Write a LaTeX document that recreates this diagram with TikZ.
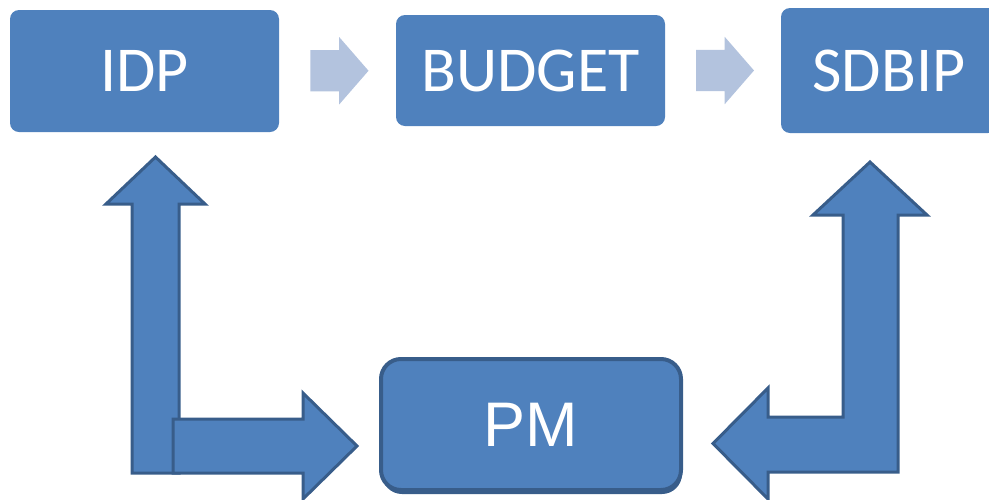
\documentclass[tikz,border=0pt]{standalone}
\usepackage{fontspec}
\setmainfont{Carlito}
\newfontfamily\pmfont{Liberation Sans}
\usetikzlibrary{calc, shapes.arrows, shadows}
\definecolor{b1}{HTML}{4F81BD}
\definecolor{b2}{HTML}{385D8A}
\definecolor{l1}{HTML}{B3C3DE}
\tikzset{
	topbox/.style={shape=rectangle, fill=b1, rounded corners=9pt, inner sep=0pt, text=white, font=\fontsize{64}{70}\selectfont},
	pmbox/.style={shape=rectangle, fill=b1, draw=b2, line width=4pt, rounded corners=20pt, inner sep=0pt, text=white, font=\pmfont\fontsize{63}{70}\selectfont, drop shadow={shadow xshift=1pt, shadow yshift=-4pt, fill=b2, opacity=1}},
	flow/.style={single arrow, fill=l1, inner xsep=0pt, inner ysep=20.5pt, minimum height=58pt, single arrow head extend=13pt, single arrow tip angle=98},
	bent/.style={fill=b1, draw=b2, line width=3pt, line join=miter}
}

\begin{document}
\begin{tikzpicture}[x=1pt, y=-1pt]
	\clip (0,0) rectangle (989,499);
	
	\node[topbox, minimum width=269pt, minimum height=122pt] (idp) at (144.5, 71) {IDP};
	\node[topbox, minimum width=269pt, minimum height=111pt] (budget) at (530.5, 70.5) {BUDGET};
	\node[topbox, minimum width=216pt, minimum height=125pt] (sdbip) at (889, 70.5) {SDBIP};
	
	\foreach \a/\b in {idp/budget, budget/sdbip}{
		\node[flow] (\a-\b) at ($(\a.east)!.5!(\b.west) + (-7,0)$) {};
	};
	
	\node[pmbox, minimum width=300pt, minimum height=131pt] (pm) at (531, 424.5) {PM};
	
	% left: PM -> IDP and back
	\coordinate (upL) at (155.5, 157);
	\coordinate (inL) at (357, 446);
	\draw[bent] (132,473) -- (132,204) -- (106,204) -- (upL) -- (205,204) -- (179,204) -- (179,473) -- cycle;
	\draw[bent] (173,419) -- (303,419) -- (303,393) -- (inL) -- (303,499) -- (303,473) -- (173,473) -- cycle;
	
	% right: PM <-> SDBIP
	\coordinate (upR) at (870, 162);
	\coordinate (inR) at (713, 443.5);
	\draw[bent] (843,417) -- (843,215) -- (813,215) -- (upR) -- (927,215) -- (898,215) -- (898,472)
		-- (768,472) -- (768,499) -- (inR) -- (768,388) -- (768,417) -- cycle;
	
\end{tikzpicture}
\end{document}
